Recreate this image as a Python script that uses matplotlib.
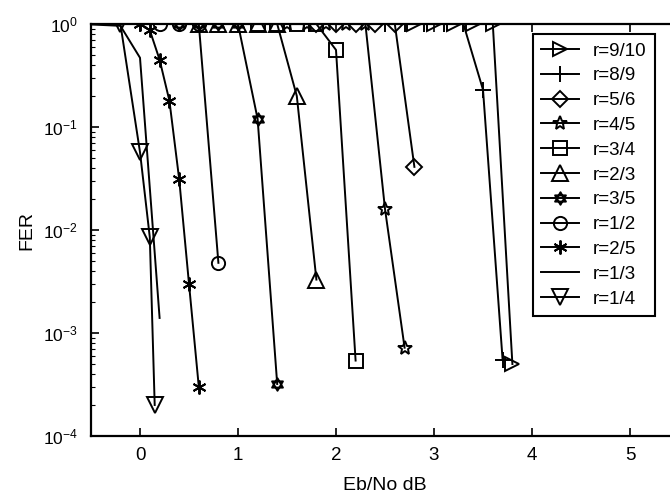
import numpy as np
import matplotlib
matplotlib.use("Agg")
import matplotlib.pyplot as plt
from matplotlib.path import Path

plt.rcParams['font.family'] = ['Liberation Sans', 'DejaVu Sans']
plt.rcParams['mathtext.fontset'] = 'custom'
plt.rcParams['mathtext.rm'] = 'Liberation Sans'
plt.rcParams['mathtext.it'] = 'Liberation Sans'

# FER curves, one per code rate
x_r14 = [-0.2, 0.0, 0.1, 0.15]
y_r14 = [1.0, 0.057, 0.0085, 2.0e-4]

x_r13 = [-0.6, -0.2, 0.0, 0.2]
y_r13 = [1.0, 0.96, 0.47, 1.4e-3]

x_r25 = [0.0, 0.1, 0.2, 0.3, 0.4, 0.5, 0.6]
y_r25 = [1.0, 0.87, 0.45, 0.18, 0.031, 0.003, 3.0e-4]

x_r12 = [0.2, 0.4, 0.6, 0.8]
y_r12 = [1.0, 1.0, 1.0, 0.0048]

x_r35 = [0.4, 0.6, 0.8, 1.0, 1.2, 1.4]
y_r35 = [1.0, 1.0, 1.0, 1.0, 0.12, 3.2e-4]

x_r23 = [0.6, 0.8, 1.0, 1.2, 1.4, 1.6, 1.8]
y_r23 = [1.0, 1.0, 1.0, 1.0, 1.0, 0.2, 0.0033]

x_r34 = [1.2, 1.4, 1.6, 1.8, 2.0, 2.2]
y_r34 = [1.0, 1.0, 1.0, 1.0, 0.56, 5.4e-4]

x_r45 = [1.5, 1.7, 1.9, 2.1, 2.3, 2.5, 2.7]
y_r45 = [1.0, 1.0, 1.0, 1.0, 1.0, 0.016, 7.2e-4]

x_r56 = [1.8, 2.0, 2.2, 2.4, 2.6, 2.8]
y_r56 = [1.0, 1.0, 1.0, 1.0, 1.0, 0.041]

x_r89 = [2.5, 2.7, 2.9, 3.1, 3.3, 3.5, 3.7]
y_r89 = [1.0, 1.0, 1.0, 1.0, 1.0, 0.23, 5.5e-4]

x_r910 = [2.8, 3.0, 3.2, 3.4, 3.6, 3.8]
y_r910 = [1.0, 1.0, 1.0, 1.0, 1.0, 5.0e-4]

# six-pointed star (two triangles) for r=3/5
c = 0.866
hexagram = Path([(0, 1), (-c, -0.5), (c, -0.5), (0, 1),
                 (0, -1), (-c, 0.5), (c, 0.5), (0, -1)],
                [Path.MOVETO, Path.LINETO, Path.LINETO, Path.CLOSEPOLY,
                 Path.MOVETO, Path.LINETO, Path.LINETO, Path.CLOSEPOLY])

series = [
    ('r=9/10', x_r910, y_r910, '>', 10.5),
    ('r=8/9', x_r89, y_r89, '+', 11),
    ('r=5/6', x_r56, y_r56, 'D', 8),
    ('r=4/5', x_r45, y_r45, '*', 10),
    ('r=3/4', x_r34, y_r34, 's', 9.5),
    ('r=2/3', x_r23, y_r23, '^', 11.5),
    ('r=3/5', x_r35, y_r35, hexagram, 9),
    ('r=1/2', x_r12, y_r12, 'o', 9.5),
    ('r=2/5', x_r25, y_r25, (6, 2, 0), 10),
    ('r=1/3', x_r13, y_r13, None, 0),
    ('r=1/4', x_r14, y_r14, 'v', 11.5),
]

fig = plt.figure(figsize=(6.7, 4.94), dpi=100)
ax = fig.add_axes([91 / 670, 1 - 436 / 494, 588 / 670, 412 / 494])

for label, xs, ys, mk, ms in series:
    ax.semilogy(xs, ys, color='black', linewidth=1.4, marker=mk, markersize=ms,
                markerfacecolor='none', markeredgecolor='black',
                markeredgewidth=1.4, label=label)

ax.set_xlim(-0.5, 5.5)
ax.set_ylim(1e-4, 1)
ax.set_xticks([0, 1, 2, 3, 4, 5])
ax.set_yticks([1e-4, 1e-3, 1e-2, 1e-1, 1])
ax.tick_params(which='major', direction='in', length=6, width=1.2, top=True)
ax.tick_params(axis='x', which='major', labelsize=13.5, pad=8)
ax.tick_params(axis='y', which='major', labelsize=12.5, pad=9.5)
ax.tick_params(which='minor', direction='in', length=3, width=0.8, top=False)
ax.tick_params(axis='x', which='minor', bottom=False)
for s in ax.spines.values():
    s.set_linewidth(1.6)

ax.set_xlabel('Eb/No dB', fontsize=14, labelpad=9)
ax.set_ylabel('FER', fontsize=14, labelpad=5)

leg = ax.legend(loc='upper left', bbox_to_anchor=(533 / 670, 1 - 34 / 494),
                bbox_transform=fig.transFigure, fontsize=13.5, handlelength=2.0,
                labelspacing=0.41, borderpad=0.45, handletextpad=0.75,
                borderaxespad=0, fancybox=False, framealpha=1, edgecolor='black')
leg.get_frame().set_linewidth(1.5)

fig.savefig('out.png', dpi=100)
